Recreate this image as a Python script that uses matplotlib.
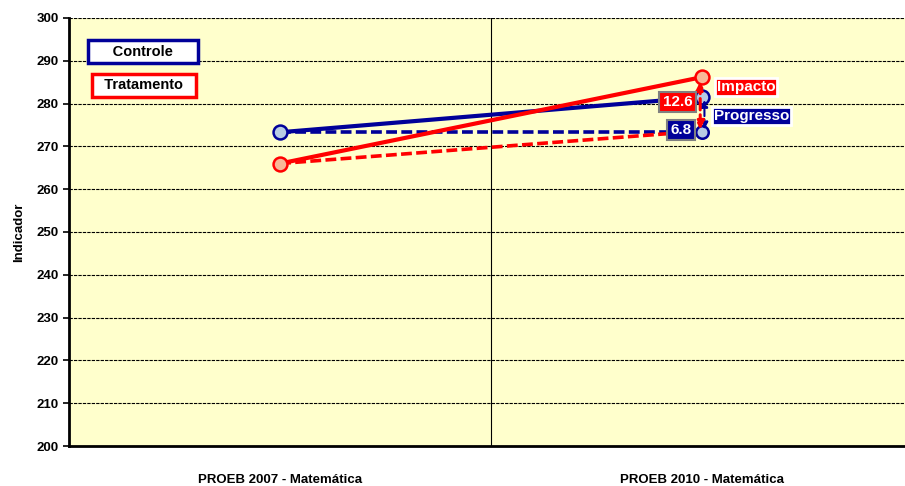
import matplotlib.pyplot as plt

plt.rcParams['font.family'] = ['Liberation Sans', 'DejaVu Sans']

categorias = ["PROEB 2007 - Matemática", "PROEB 2010 - Matemática"]
controle = [273.3, 281.5]
tratamento = [266.0, 286.2]
controle_cf = [273.3, 273.3]
tratamento_cf = [266.0, 273.6]
impacto = 12.6
progresso = 6.8

azul = "#000099"
vermelho = "#FF0000"

fig = plt.figure(figsize=(9.05, 4.86), dpi=100)
ax = fig.add_axes([0.0762, 0.0823, 0.9238, 0.8807])
ax.set_facecolor("#FFFFCC")

x = [0, 1]
ax.plot(x, controle_cf, color=azul, lw=2.6, ls=(0, (3, 1.2)), zorder=3)
ax.plot(x, tratamento_cf, color=vermelho, lw=2.6, ls=(0, (3, 1.2)), zorder=3)
ax.plot(x, controle, color=azul, lw=3, marker="o", ms=10, mfc="#B8CCE4",
        mec=azul, mew=1.8, zorder=4)
ax.plot(x, tratamento, color=vermelho, lw=3, marker="o", ms=10, mfc="#F8B898",
        mec=vermelho, mew=1.8, zorder=4)
ax.plot(x[1], controle_cf[1], "o", ms=9, mfc="#B8CCE4", mec=azul, mew=1.8, zorder=3)

# setas de impacto e progresso
ax.annotate("", xy=(x[1] - 0.005, tratamento[1] - 0.4), xytext=(x[1] - 0.005, tratamento_cf[1] - 0.3),
            arrowprops=dict(arrowstyle="<|-|>", color=vermelho, lw=2.2, ls="--",
                            mutation_scale=12), zorder=6)
ax.annotate("", xy=(x[1] + 0.005, controle[1]), xytext=(x[1] + 0.005, controle_cf[1]),
            arrowprops=dict(arrowstyle="<|-|>", color=azul, lw=1.5, ls="--",
                            mutation_scale=10), zorder=5)

caixa = dict(boxstyle="square,pad=0.22", ec="#808080", lw=1.5)
ax.text(0.941, 280.4, f"{impacto}", color="white", fontsize=11, fontweight="bold",
        ha="center", va="center", bbox=dict(caixa, fc=vermelho), zorder=7)
ax.text(0.950, 273.8, f"{progresso}", color="white", fontsize=11, fontweight="bold",
        ha="center", va="center", bbox=dict(caixa, fc=azul), zorder=7)
ax.text(1.034, 283.9, "Impacto", color="white", fontsize=11, fontweight="bold",
        ha="left", va="center",
        bbox=dict(boxstyle="square,pad=0.12", fc=vermelho, ec="white", lw=2), zorder=7)
ax.text(1.027, 277.1, "Progresso", color="white", fontsize=11, fontweight="bold",
        ha="left", va="center",
        bbox=dict(boxstyle="square,pad=0.12", fc=azul, ec="white", lw=2), zorder=7)

# caixas de legenda
ax.text(-0.325, 292.1, "     Controle     ", color="black", fontsize=10.5, fontweight="bold",
        ha="center", va="center",
        bbox=dict(boxstyle="square,pad=0.3", fc="white", ec=azul, lw=2.5), zorder=7)
ax.text(-0.322, 284.3, "  Tratamento  ", color="black", fontsize=10.5, fontweight="bold",
        ha="center", va="center",
        bbox=dict(boxstyle="square,pad=0.3", fc="white", ec=vermelho, lw=2.5), zorder=7)

ax.set_xlim(-0.5, 1.48)
ax.set_ylim(200, 300)
ax.set_yticks(range(200, 301, 10))
ax.set_xticks(x)
ax.set_xticklabels(categorias, fontsize=9.5, fontweight="bold")
ax.tick_params(axis="x", length=0, pad=20)
ax.tick_params(axis="y", labelsize=9.5, width=1.2, length=4, direction="out")
for lbl in ax.get_yticklabels():
    lbl.set_fontweight("bold")
ax.set_ylabel("Indicador", fontsize=9.5, fontweight="bold", labelpad=8)

ax.grid(axis="y", color="black", ls=(0, (3, 1)), lw=0.8)
ax.axvline(0.5, color="black", lw=0.8)
for lado in ["top", "right"]:
    ax.spines[lado].set_visible(False)
ax.spines["left"].set_linewidth(2)
ax.spines["bottom"].set_linewidth(2)

plt.savefig("out.png")
